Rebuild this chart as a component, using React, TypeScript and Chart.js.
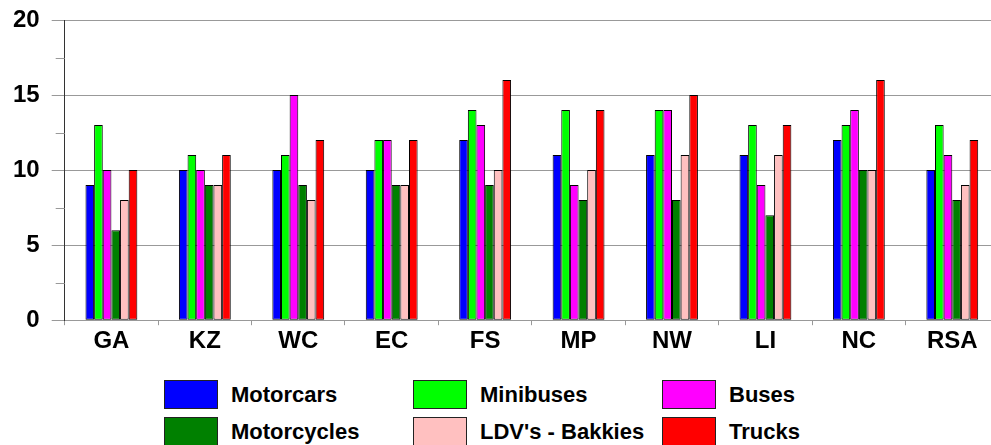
import React, { useEffect, useRef } from "react";
import { Chart, registerables } from "chart.js";

Chart.register(...registerables);

const categories = ["GA", "KZ", "WC", "EC", "FS", "MP", "NW", "LI", "NC", "RSA"];
const seriesNames = ["Motorcars", "Minibuses", "Buses", "Motorcycles", "LDV's - Bakkies", "Trucks"];
const seriesColors = ["#0000FF", "#00FF00", "#FF00FF", "#008000", "#FFC0C0", "#FF0000"];

const motorcars = [9, 10, 10, 10, 12, 11, 11, 11, 12, 10];
const minibuses = [13, 11, 11, 12, 14, 14, 14, 13, 13, 13];
const buses = [10, 10, 15, 12, 13, 9, 14, 9, 14, 11];
const motorcycles = [6, 9, 9, 9, 9, 8, 8, 7, 10, 8];
const ldvBakkies = [8, 9, 8, 9, 10, 10, 11, 11, 10, 9];
const trucks = [10, 11, 12, 12, 16, 14, 15, 13, 16, 12];

const seriesValues = [motorcars, minibuses, buses, motorcycles, ldvBakkies, trucks];

const yTicks = [0, 5, 10, 15, 20];
const yMinorTicks = [2.5, 7.5, 12.5, 17.5];

const FONT = "'Liberation Sans', Arial, sans-serif";

const minorTickPlugin = {
  id: "minorTicks",
  afterDraw(chart: any) {
    const y = chart.scales.y;
    const ctx = chart.ctx;
    const left = chart.chartArea.left;
    ctx.save();
    ctx.strokeStyle = "#999999";
    ctx.lineWidth = 1;
    yMinorTicks.forEach((v) => {
      const py = Math.round(y.getPixelForValue(v)) + 0.5;
      ctx.beginPath();
      ctx.moveTo(left - 9, py);
      ctx.lineTo(left, py);
      ctx.stroke();
    });
    ctx.restore();
  },
};

export default function App() {
  const canvasRef = useRef<HTMLCanvasElement | null>(null);

  useEffect(() => {
    if (!canvasRef.current) return;
    const chart = new Chart(canvasRef.current, {
      type: "bar",
      data: {
        labels: categories,
        datasets: seriesNames.map((name, i) => ({
          label: name,
          data: seriesValues[i],
          backgroundColor: seriesColors[i],
          borderColor: "#000000",
          borderWidth: 1,
          borderSkipped: false,
          barPercentage: 1,
          categoryPercentage: 0.555,
        })),
      },
      options: {
        responsive: false,
        animation: false,
        events: [],
        layout: { padding: { left: 1, top: 20, right: 1, bottom: 7 } },
        plugins: {
          legend: { display: false },
          tooltip: { enabled: false },
        },
        scales: {
          x: {
            offset: true,
            grid: {
              offset: true,
              drawOnChartArea: false,
              tickLength: 5,
              color: "#999999",
            },
            border: { color: "#999999", width: 1 },
            ticks: {
              color: "#000000",
              padding: 2,
              font: { family: FONT, size: 24, weight: "bold" },
            },
          },
          y: {
            min: 0,
            max: 20,
            afterBuildTicks: (scale: any) => {
              scale.ticks = yTicks.map((v) => ({ value: v }));
            },
            afterFit: (scale: any) => {
              scale.paddingTop = 0;
              scale.paddingBottom = 0;
            },
            grid: {
              color: "#999999",
              tickColor: "#999999",
              tickLength: 13,
            },
            border: { color: "#333333", width: 1 },
            ticks: {
              color: "#000000",
              padding: 12,
              font: { family: FONT, size: 24, weight: "bold" },
            },
          },
        },
      },
      plugins: [minorTickPlugin],
    } as any);
    return () => chart.destroy();
  }, []);

  const colLeft = [164, 413, 662];
  const rowTop = [380, 417];

  return (
    <div
      style={{
        position: "fixed",
        left: 0,
        top: 0,
        width: 991,
        height: 445,
        overflow: "hidden",
        background: "#ffffff",
      }}
    >
      <canvas
        ref={canvasRef}
        width={1000}
        height={365}
        style={{ position: "absolute", left: 0, top: 0, width: 1000, height: 365 }}
      />
      {seriesNames.map((name, i) => {
        const col = i % 3;
        const row = Math.floor(i / 3);
        return (
          <div
            key={name}
            style={{
              position: "absolute",
              left: colLeft[col],
              top: rowTop[row],
              height: 29,
              display: "flex",
              alignItems: "center",
              whiteSpace: "nowrap",
            }}
          >
            <div
              style={{
                width: 52,
                height: 27,
                background: seriesColors[i],
                border: "1px solid #222222",
                flex: "none",
              }}
            />
            <span
              style={{
                marginLeft: 13,
                fontFamily: FONT,
                fontWeight: "bold",
                fontSize: 22,
                color: "#000000",
                lineHeight: "29px",
              }}
            >
              {name}
            </span>
          </div>
        );
      })}
    </div>
  );
}
